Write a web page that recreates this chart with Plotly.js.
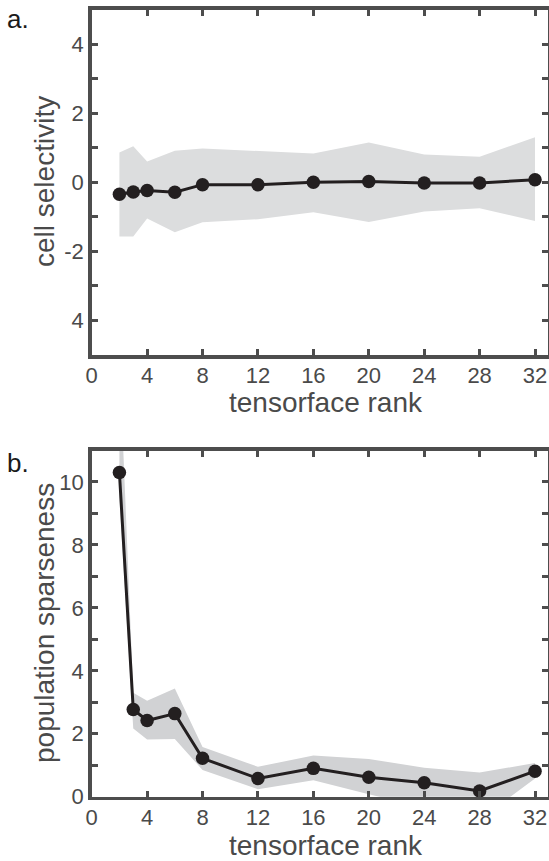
<!DOCTYPE html>
<html>
<head>
<meta charset="utf-8">
<script src="https://cdn.plot.ly/plotly-3.0.1.min.js"></script>
<style>html,body{margin:0;padding:0;background:#fff;}#chart{width:549px;height:861px;}</style>
</head>
<body>
<div id="chart"></div>
<script>
// ---- data ----
const rank = [2, 3, 4, 6, 8, 12, 16, 20, 24, 28, 32];

const selectivityMean  = [-0.35, -0.28, -0.24, -0.29, -0.07, -0.07, 0.00, 0.02, -0.02, -0.02, 0.07];
const selectivityUpper = [0.86, 1.04, 0.60, 0.91, 0.98, 0.90, 0.83, 1.15, 0.80, 0.74, 1.30];
const selectivityLower = [-1.57, -1.57, -1.05, -1.45, -1.16, -1.07, -0.87, -1.15, -0.85, -0.75, -1.12];

const sparsenessMean  = [10.3, 2.77, 2.42, 2.64, 1.22, 0.58, 0.90, 0.62, 0.44, 0.18, 0.81];
const sparsenessUpper = [14.0, 3.30, 3.05, 3.44, 1.58, 0.95, 1.31, 1.20, 0.92, 0.77, 1.07];
const sparsenessLower = [9.5, 2.17, 1.82, 1.83, 0.85, 0.24, 0.52, 0.08, -0.35, -0.73, 0.58];

const xTicks = [0, 4, 8, 12, 16, 20, 24, 28, 32];
const xTickText = ['0', '4', '8', '12', '16', '20', '24', '28', '32'];
const yTicksA = [-4, -3, -2, -1, 0, 1, 2, 3, 4];
const yTickTextA = ['4', '', '-2', '', '0', '', '2', '', '4'];
const yTicksB = [0, 1, 2, 3, 4, 5, 6, 7, 8, 9, 10];
const yTickTextB = ['0', '', '2', '', '4', '', '6', '', '8', '', '10'];

const panelLabels = ['a.', 'b.'];
const xTitle = 'tensorface rank';
const yTitles = ['cell selectivity', 'population sparseness'];

// ---- helpers ----
const W = 549, H = 861;
const px = v => v / W;
const py = v => 1 - v / H;

const FONT = 'Liberation Sans, Arial, Helvetica, sans-serif';
const AXC = '#4d4d4d';
const TXT = '#4a4a4a';
const LINEC = '#231f20';

function band(x, up, lo, color, xa, ya) {
  return {
    x: x.concat(x.slice().reverse()),
    y: up.concat(lo.slice().reverse()),
    xaxis: xa, yaxis: ya,
    type: 'scatter', mode: 'lines', fill: 'toself',
    fillcolor: color, line: {width: 0, color: color},
    hoverinfo: 'skip', showlegend: false
  };
}
function meanLine(x, y, xa, ya) {
  return {
    x: x, y: y, xaxis: xa, yaxis: ya,
    type: 'scatter', mode: 'lines+markers',
    line: {color: LINEC, width: 3},
    marker: {color: LINEC, size: 13.5},
    cliponaxis: false,
    showlegend: false
  };
}

const data = [
  band(rank, selectivityUpper, selectivityLower, '#dcddde', 'x', 'y'),
  meanLine(rank, selectivityMean, 'x', 'y'),
  band(rank, sparsenessUpper, sparsenessLower, '#d1d2d4', 'x2', 'y2'),
  meanLine(rank, sparsenessMean, 'x2', 'y2')
];

const axisCommon = {
  showline: true, linecolor: AXC, linewidth: 3.5, mirror: 'ticks',
  ticks: 'inside', ticklen: 6, tickwidth: 3, tickcolor: AXC,
  showgrid: false, zeroline: false, fixedrange: true,
  tickfont: {family: FONT, size: 22, color: TXT}
};
const xDomain = [px(91.7), px(547.5)];

const layout = {
  width: W, height: H,
  margin: {l: 0, r: 0, t: 0, b: 0},
  paper_bgcolor: '#fff', plot_bgcolor: '#fff',
  showlegend: false,
  xaxis: Object.assign({}, axisCommon, {
    domain: xDomain, anchor: 'y', range: [0, 32.9], ticklabelstandoff: -2,
    tickmode: 'array', tickvals: xTicks, ticktext: xTickText
  }),
  yaxis: Object.assign({}, axisCommon, {
    domain: [py(355), py(9.5)], anchor: 'x', range: [-5, 5],
    tickmode: 'array', tickvals: yTicksA, ticktext: yTickTextA
  }),
  xaxis2: Object.assign({}, axisCommon, {
    domain: xDomain, anchor: 'y2', range: [0, 32.9], ticklabelstandoff: -2,
    tickmode: 'array', tickvals: xTicks, ticktext: xTickText
  }),
  yaxis2: Object.assign({}, axisCommon, {
    domain: [py(796.7), py(450.5)], anchor: 'x2', range: [0, 11],
    tickmode: 'array', tickvals: yTicksB, ticktext: yTickTextB
  }),
  annotations: [
    {text: panelLabels[0], xref: 'paper', yref: 'paper', x: px(5), y: py(2), xanchor: 'left', yanchor: 'top',
     showarrow: false, font: {family: FONT, size: 26, color: '#1a1a1a'}},
    {text: panelLabels[1], xref: 'paper', yref: 'paper', x: px(5), y: py(446), xanchor: 'left', yanchor: 'top',
     showarrow: false, font: {family: FONT, size: 26, color: '#1a1a1a'}},
    {text: xTitle, xref: 'paper', yref: 'paper', x: px(326), y: py(403), xanchor: 'center', yanchor: 'middle',
     borderpad: 0, showarrow: false, font: {family: FONT, size: 28, color: TXT}},
    {text: xTitle, xref: 'paper', yref: 'paper', x: px(326), y: py(845), xanchor: 'center', yanchor: 'middle',
     borderpad: 0, showarrow: false, font: {family: FONT, size: 28, color: TXT}},
    {text: yTitles[0], xref: 'paper', yref: 'paper', x: px(44), y: py(182), xanchor: 'center', yanchor: 'middle',
     textangle: -90, showarrow: false, font: {family: FONT, size: 28, color: TXT}},
    {text: yTitles[1], xref: 'paper', yref: 'paper', x: px(44), y: py(623), xanchor: 'center', yanchor: 'middle',
     textangle: -90, showarrow: false, font: {family: FONT, size: 28, color: TXT}}
  ]
};

Plotly.newPlot('chart', data, layout, {staticPlot: true, displayModeBar: false});
</script>
</body>
</html>
